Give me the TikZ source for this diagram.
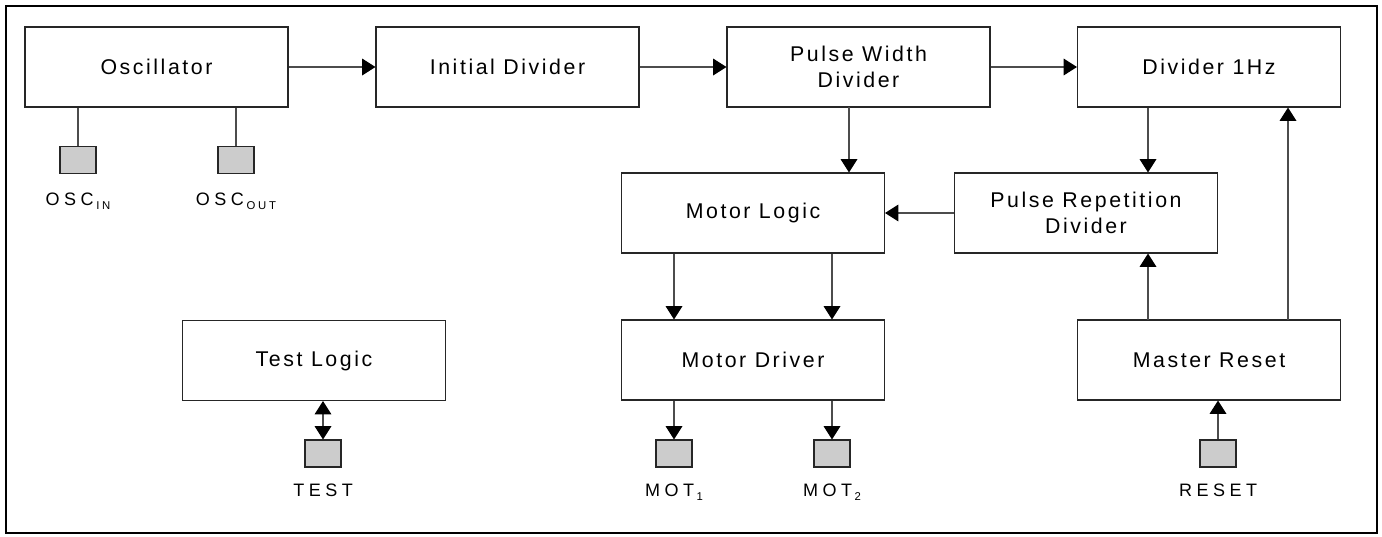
\documentclass[tikz,border=0pt]{standalone}
\usepackage{fontspec}
\setmainfont{Liberation Sans}
\newfontfamily\boxfont[LetterSpace=12]{Liberation Sans}
\newfontfamily\lblfont[LetterSpace=25]{Liberation Sans}
\usetikzlibrary{arrows.meta}
\newcommand\padsub[1]{\hspace{2pt}\raisebox{-3.5pt}{\fontsize{8.5}{10}\selectfont #1}}
\begin{document}
\begin{tikzpicture}[x=0.75pt,y=-0.75pt,
  blk/.style={draw=black!85, line width=0.8pt, minimum width=197.25pt, minimum height=60pt,
    inner sep=0pt, align=center, font=\boxfont\fontsize{16}{19}\selectfont},
  pad/.style={draw=black!85, fill=black!20, line width=0.8pt, minimum width=27pt,
    minimum height=20.25pt, inner sep=0pt},
  lbl/.style={font=\lblfont\fontsize{13.5}{16}\selectfont, inner sep=0pt, anchor=base},
  conn/.style={draw=black!70, line width=0.9pt},
  arr/.style={conn, -{Triangle[length=10pt,width=12.5pt,color=black]}},
  darr/.style={conn, {Triangle[length=10pt,width=12.5pt,color=black]}-{Triangle[length=10pt,width=12.5pt,color=black]}}]
\useasboundingbox (0,0) rectangle (1382,536);
\draw[line width=1.6pt] (6,6) rectangle (1377,533);
% blocks
\node[blk] (osc) at (156.5,67) {Oscillator};
\node[blk] (idv) at (507.5,67) {Initial Divider};
\node[blk] (pwd) at (858.5,67) {Pulse Width\\Divider};
\node[blk] (d1h) at (1209,67) {Divider 1Hz};
\node[blk] (ml) at (753,213) {Motor Logic};
\node[blk] (prd) at (1086,213) {Pulse Repetition\\Divider};
\node[blk] (tl) at (314,360.5) {Test Logic};
\node[blk] (md) at (753,360) {Motor Driver};
\node[blk] (mr) at (1209,360) {Master Reset};
% pads
\node[pad] (oscin) at (78,160) {};
\node[pad] (oscout) at (236,160) {};
\node[pad] (test) at (323,453.5) {};
\node[pad] (mot1) at (674,453.5) {};
\node[pad] (mot2) at (832,453.5) {};
\node[pad] (rst) at (1218,453.5) {};
% labels
\node[lbl] (loscin) at (78,205) {OSC\padsub{IN}};
\node[lbl] (loscout) at (236,205) {OSC\padsub{OUT}};
\node[lbl] (ltest) at (323,496) {TEST};
\node[lbl] (lmot1) at (674,496) {MOT\padsub{1}};
\node[lbl] (lmot2) at (832,496) {MOT\padsub{2}};
\node[lbl] (lrst) at (1218,496) {RESET};
% helper coordinates
\coordinate (cpw) at (849,107);
\coordinate (c1148) at (1148,320);
\coordinate (c1288) at (1288,320);
% connectors
\draw[arr] (osc) -- (idv);
\draw[arr] (idv) -- (pwd);
\draw[arr] (pwd) -- (d1h);
\draw[arr] (cpw) -- (cpw |- ml.north);
\draw[arr] (c1148 |- d1h.south) -- (c1148 |- prd.north);
\draw[arr] (prd) -- (ml);
\draw[arr] (mot1 |- ml.south) -- (mot1 |- md.north);
\draw[arr] (mot2 |- ml.south) -- (mot2 |- md.north);
\draw[arr] (mot1 |- md.south) -- (mot1.north);
\draw[arr] (mot2 |- md.south) -- (mot2.north);
\draw[arr] (c1148) -- (c1148 |- prd.south);
\draw[arr] (c1288) -- (c1288 |- d1h.south);
\draw[arr] (rst.north) -- (rst |- mr.south);
\draw[darr] (test.north) -- (test |- tl.south);
\draw[conn] (oscin |- osc.south) -- (oscin.north);
\draw[conn] (oscout |- osc.south) -- (oscout.north);
\end{tikzpicture}
\end{document}
